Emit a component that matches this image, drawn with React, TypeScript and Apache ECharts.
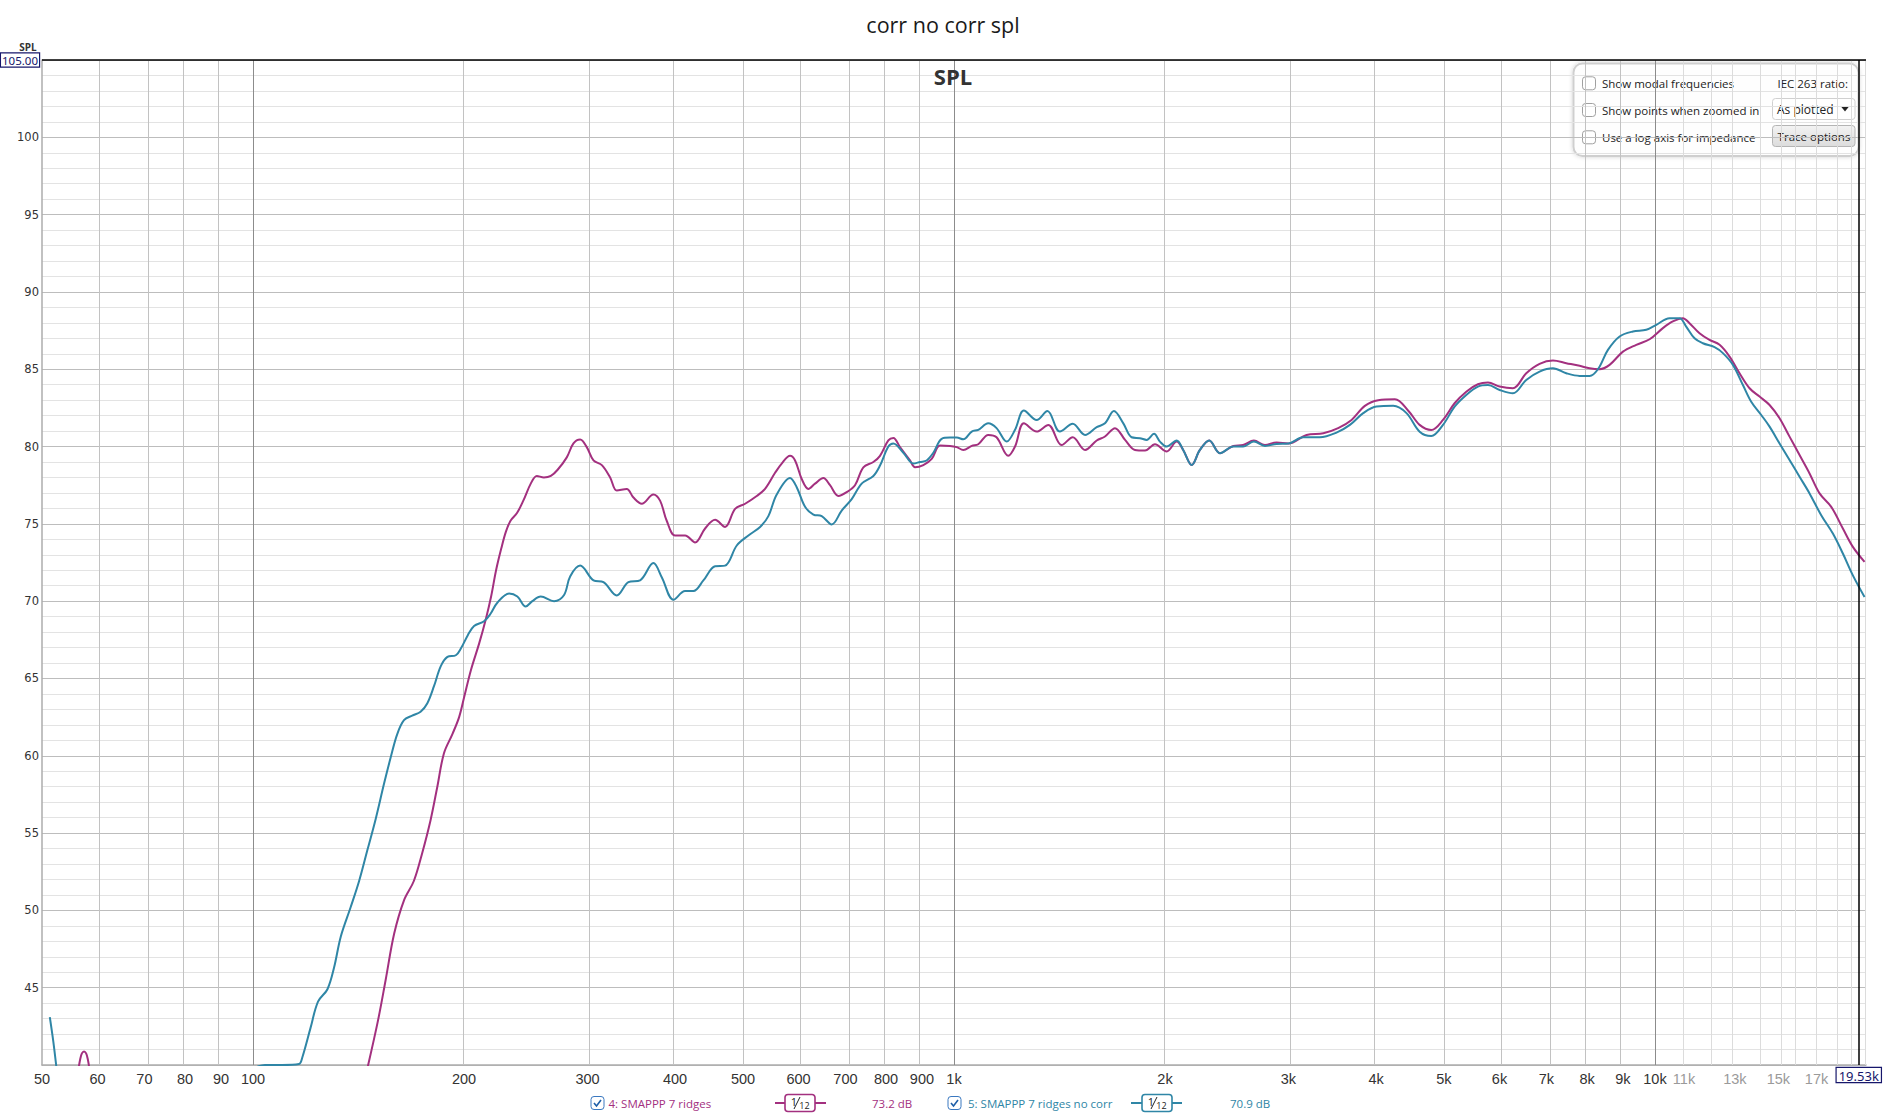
import React, { useEffect, useRef } from 'react';
import * as echarts from 'echarts';

// ---------- texts ----------
const CHART_TITLE = 'corr no corr spl';
const GRAPH_NAME = 'SPL';
const Y_AXIS_NAME = 'SPL';
const TRACE4_NAME = '4: SMAPPP 7 ridges';
const TRACE5_NAME = '5: SMAPPP 7 ridges no corr';
const TRACE4_LEVEL = '73.2 dB';
const TRACE5_LEVEL = '70.9 dB';
const SMOOTHING_NUM = '1';
const SMOOTHING_DEN = '12';
const PANEL_CHECKS = ['Show modal frequencies', 'Show points when zoomed in', 'Use a log axis for impedance'];
const PANEL_IEC = 'IEC 263 ratio:';
const PANEL_DROPDOWN = 'As plotted';
const PANEL_BUTTON = 'Trace options';

// ---------- axes ----------
const X_MIN_HZ = 50;
const X_MAX_HZ = 20000;
const Y_MIN_DB = 40;
const Y_MAX_DB = 105;
const Y_INTERVAL = 5;
const CURSOR_HZ = 19530;
const CURSOR_DB = 105;
const CURSOR_X_LABEL = '19.53k';
const CURSOR_Y_LABEL = '105.00';

const xLabelFreqs = [50, 60, 70, 80, 90, 100, 200, 300, 400, 500, 600, 700, 800, 900, 1000, 2000, 3000, 4000, 5000, 6000, 7000, 8000, 9000, 10000, 11000, 13000, 15000, 17000, CURSOR_HZ];
const xLabelTexts = ['50', '60', '70', '80', '90', '100', '200', '300', '400', '500', '600', '700', '800', '900', '1k', '2k', '3k', '4k', '5k', '6k', '7k', '8k', '9k', '10k', '11k', '13k', '15k', '17k', CURSOR_X_LABEL];
const xLabelMuted = ['11k', '13k', '15k', '17k'];

const gridDecadeFreqs = [100, 1000, 10000];
const gridFreqs = [60, 70, 80, 90, 200, 300, 400, 500, 600, 700, 800, 900, 2000, 3000, 4000, 5000, 6000, 7000, 8000, 9000];
const gridFineFreqs = [11000, 12000, 13000, 14000, 15000, 16000, 17000, 18000, 19000, 20000];

// ---------- data: trace 4 (magenta) ----------
const t4BlipFreq = [56.3, 56.7, 57.0, 57.4, 57.8, 58.1, 58.5];
const t4BlipDb = [39.6, 40.4, 40.75, 40.88, 40.75, 40.4, 39.6];
const t4Freq = [145.8, 150.8, 154.6, 159.0, 164.2, 169.6, 174.3, 179.1, 183.2, 187.2,
  192.5, 196.8, 200.1, 204.6, 210.3, 215.0, 218.6, 222.2, 226, 229.5,
  233, 238, 243, 249, 254, 260, 266, 272, 280.3, 286.5,
  292.9, 299.3, 306, 314.5, 323.2, 330.3, 341.3, 348.9, 358.6, 372.5,
  380.8, 389.2, 400, 413.4, 427.2, 441.5, 456.2, 471.4, 487.2, 503.5,
  523.1, 537.6, 555.6, 567.8, 583.6, 593.3, 606.4, 619.8, 633.5, 651.1,
  665.5, 684, 702.9, 722.4, 742.5, 767.3, 784.2, 806, 819.4, 837.5,
  865.5, 879.8, 904.2, 929.3, 955, 987, 1009, 1031, 1060, 1083,
  1119, 1150, 1195, 1222, 1258, 1312, 1363, 1424, 1477, 1538,
  1598, 1642, 1697, 1754, 1812, 1873, 1935, 2011, 2078, 2123,
  2183, 2243, 2313, 2395, 2503, 2585, 2678, 2777, 2885, 3000,
  3184, 3364, 3532, 3691, 3856, 4029, 4256, 4450, 4616, 4796,
  4984, 5178, 5380, 5590, 5778, 6003, 6271, 6552, 6845, 7152,
  7472, 7807, 8068, 8336, 8615, 9001, 9404, 9825, 10263, 10604,
  10958, 11201, 11575, 11961, 12364, 12776, 13202, 13643, 14099, 14570,
  15056, 15558, 16078, 16615, 17170, 17841, 18537, 19156, 19904];
const t4Db = [39.9, 42.9, 45.5, 48.5, 50.65, 51.9, 53.7, 55.8, 58.0, 60.15,
  61.4, 62.5, 63.8, 65.55, 67.3, 68.9, 70.3, 72.0, 73.4, 74.5,
  75.2, 75.7, 76.5, 77.6, 78.1, 78.0, 78.1, 78.5, 79.3, 80.2,
  80.45, 79.96, 79.1, 78.8, 78.0, 77.15, 77.26, 76.7, 76.3, 76.9,
  76.5, 75.2, 74.25, 74.25, 73.8, 74.7, 75.26, 74.8, 75.97, 76.3,
  76.8, 77.26, 78.3, 78.9, 79.4, 79.1, 77.9, 77.26, 77.6, 77.97,
  77.5, 76.8, 77.05, 77.5, 78.66, 79.0, 79.4, 80.4, 80.56, 79.96,
  79.1, 78.66, 78.8, 79.2, 80.06, 80.04, 79.96, 79.78, 80.04, 80.15,
  80.75, 80.6, 79.4, 80.0, 81.5, 80.97, 81.4, 80.1, 80.6, 79.78,
  80.39, 80.65, 81.19, 80.43, 79.78, 79.74, 80.15, 79.68, 80.32, 79.78,
  78.81, 79.78, 80.39, 79.57, 80.04, 80.1, 80.39, 80.1, 80.26, 80.2,
  80.75, 80.86, 81.19, 81.72, 82.63, 83.0, 83.06, 82.3, 81.4, 81.07,
  81.72, 82.8, 83.55, 84.03, 84.14, 83.88, 83.77, 84.74, 85.35, 85.56,
  85.39, 85.22, 85.06, 85.0, 85.28, 86.14, 86.58, 86.94, 87.66, 88.09,
  88.3, 87.98, 87.33, 86.9, 86.58, 85.82, 84.74, 83.77, 83.23, 82.69,
  81.83, 80.64, 79.45, 78.26, 76.97, 76.1, 74.7, 73.51, 72.54];

// ---------- data: trace 5 (teal) ----------
const t5BlipFreq = [51.3, 51.9, 52.5];
const t5BlipDb = [43.1, 41.5, 39.6];
const t5Freq = [101.5, 104, 110, 116.3, 117.6, 120.8, 123.8, 127.7, 130.5, 133.4,
  137.8, 141.7, 145.6, 149.6, 153.8, 157.2, 160.6, 164.2, 168.7, 173.4,
  177.3, 181.2, 185.3, 189.4, 194.7, 198, 202.5, 206.7, 213.6, 218.3,
  223.1, 231.9, 238.3, 244.9, 250.3, 257.3, 268.8, 277.8, 283.4, 292.9,
  306, 316.2, 330.3, 343.2, 356.6, 372.5, 382.9, 397.9, 413.4, 424.9,
  439, 456.2, 471.4, 489.9, 509, 528.9, 543.5, 558.6, 583.6, 596.5,
  613.1, 630.1, 647.6, 669.2, 691.5, 714.6, 738.4, 767.3, 784.2, 806,
  819.4, 846.7, 875, 894.4, 914, 934.4, 960.3, 987, 1009, 1031,
  1060, 1083, 1119, 1150, 1189, 1222, 1258, 1312, 1359, 1416,
  1477, 1538, 1598, 1642, 1691, 1744, 1792, 1842, 1883, 1929,
  1967, 2011, 2078, 2123, 2183, 2243, 2313, 2395, 2503, 2585,
  2678, 2777, 2885, 3000, 3149, 3326, 3513, 3671, 3835, 4006,
  4232, 4421, 4616, 4796, 4984, 5178, 5380, 5590, 5778, 6003,
  6271, 6552, 6845, 7152, 7472, 7807, 8068, 8291, 8568, 8903,
  9302, 9718, 10043, 10490, 10840, 11080, 11387, 11703, 12161, 12500,
  12917, 13349, 13718, 14177, 14570, 15056, 15558, 16078, 16615, 17264,
  17939, 18537, 19156, 19904];
const t5Db = [39.9, 40.0, 40.0, 40.06, 40.5, 42.4, 44.1, 44.9, 46.3, 48.3,
  50.2, 51.9, 53.9, 55.9, 58.2, 59.9, 61.4, 62.3, 62.6, 62.85,
  63.4, 64.5, 65.8, 66.4, 66.5, 66.95, 67.8, 68.4, 68.7, 69.2,
  69.9, 70.5, 70.3, 69.65, 70.0, 70.3, 70.0, 70.4, 71.6, 72.3,
  71.34, 71.23, 70.37, 71.23, 71.34, 72.46, 71.55, 70.09, 70.65, 70.65,
  71.34, 72.26, 72.3, 73.6, 74.25, 74.8, 75.5, 76.9, 77.97, 77.37,
  76.1, 75.6, 75.5, 74.96, 75.86, 76.6, 77.6, 78.1, 78.77, 80.0,
  80.2, 79.6, 78.9, 79.0, 79.1, 79.6, 80.5, 80.58, 80.58, 80.47,
  80.97, 81.08, 81.5, 81.19, 80.32, 81.08, 82.33, 81.72, 82.3, 80.97,
  81.47, 80.75, 81.25, 81.5, 82.3, 81.5, 80.6, 80.54, 80.43, 80.82,
  80.32, 80.0, 80.39, 79.78, 78.81, 79.78, 80.39, 79.57, 80.0, 80.0,
  80.32, 80.04, 80.17, 80.2, 80.6, 80.6, 80.9, 81.4, 82.16, 82.59,
  82.63, 82.16, 80.96, 80.68, 81.4, 82.58, 83.34, 83.88, 83.98, 83.66,
  83.44, 84.31, 84.85, 85.06, 84.74, 84.57, 84.57, 85.0, 86.25, 87.12,
  87.44, 87.55, 87.87, 88.3, 88.3, 87.76, 87.0, 86.68, 86.43, 86.04,
  85.28, 83.98, 82.9, 82.04, 81.29, 80.2, 79.13, 78.05, 76.97, 75.56,
  74.37, 73.08, 71.67, 70.27];

// ---------- styles ----------
const C4 = '#a3307f';
const C5 = '#2f86a6';
const CURSOR_COLOR = '#17176b';
const W = 1886;
const H = 1115;
const GRID = { left: 42, right: 20, top: 60, bottom: 50 };
const UI_FONT = "'Open Sans', 'Noto Sans', sans-serif";
const NARROW_FONT = "'Liberation Sans Narrow', 'Liberation Sans', sans-serif";

const lg = (f: number) => Math.log10(f);
const pairs = (fs: number[], ds: number[]) => fs.map((f, i) => [lg(f), ds[i]]);

function checkbox(x: number, y: number, checked: boolean, stroke: string) {
  const children: any[] = [
    { type: 'rect', shape: { x, y, width: 13, height: 13, r: 3 }, style: { fill: '#fff', stroke, lineWidth: 1 } },
  ];
  if (checked) {
    children.push({
      type: 'polyline',
      shape: { points: [[x + 3, y + 6.5], [x + 5.5, y + 9.5], [x + 10, y + 3.5]] },
      style: { stroke: '#1f5fa8', lineWidth: 1.6, fill: null },
    });
  }
  return { type: 'group', children };
}

function legendItem(x0: number, y: number, color: string, name: string, level: string, geo: any) {
  return {
    type: 'group',
    children: [
      checkbox(x0, y - 6.5, true, '#3a78c0'),
      { type: 'text', x: geo.text, y, style: { text: name, fill: color, font: `11.5px ${UI_FONT}`, textVerticalAlign: 'middle' } },
      { type: 'line', shape: { x1: geo.lineFrom, y1: y, x2: geo.lineTo, y2: y }, style: { stroke: color, lineWidth: 2 } },
      { type: 'rect', shape: { x: geo.boxX, y: y - 8.5, width: 30, height: 17, r: 3 }, style: { fill: '#fff', stroke: color, lineWidth: 1.6 } },
      { type: 'text', x: geo.boxX + 9, y: y - 1.5, style: { text: SMOOTHING_NUM, fill: '#222', font: `11px ${UI_FONT}`, textAlign: 'center', textVerticalAlign: 'middle' } },
      { type: 'line', shape: { x1: geo.boxX + 9, y1: y + 6, x2: geo.boxX + 15, y2: y - 6 }, style: { stroke: '#222', lineWidth: 1 } },
      { type: 'text', x: geo.boxX + 19.5, y: y + 2.5, style: { text: SMOOTHING_DEN, fill: '#222', font: `9px ${UI_FONT}`, textAlign: 'center', textVerticalAlign: 'middle' } },
      { type: 'text', x: geo.level, y, style: { text: level, fill: color, font: `11.5px ${UI_FONT}`, textVerticalAlign: 'middle' } },
    ],
  };
}

function buildOption() {
  const gridLines = [
    ...gridFineFreqs.map((f) => ({ xAxis: lg(f), lineStyle: { color: '#dcdcdc', width: 1, type: 'solid' } })),
    ...gridFreqs.map((f) => ({ xAxis: lg(f), lineStyle: { color: '#c2c2c2', width: 1, type: 'solid' } })),
    ...gridDecadeFreqs.map((f) => ({ xAxis: lg(f), lineStyle: { color: '#8c8c8c', width: 1, type: 'solid' } })),
  ];
  const panelRows = [83.3, 110, 137.3];

  const lineBase = {
    type: 'line',
    symbol: 'none',
    showSymbol: false,
    smooth: 0.35,
    clip: true,
    silent: true,
    animation: false,
    emphasis: { disabled: true },
  };

  return {
    animation: false,
    backgroundColor: '#ffffff',
    title: {
      text: CHART_TITLE,
      left: 'center',
      top: 8,
      textStyle: { fontSize: 21.5, fontWeight: 'normal', fontFamily: UI_FONT, color: '#1a1a1a' },
    },
    grid: { ...GRID, containLabel: false, outerBoundsMode: 'none' },
    xAxis: {
      type: 'value',
      min: lg(X_MIN_HZ),
      max: lg(X_MAX_HZ),
      axisLine: { show: true, lineStyle: { color: '#adadad', width: 1.5 } },
      axisTick: { show: false },
      splitLine: { show: false },
      axisLabel: {
        show: true,
        margin: 3,
        hideOverlap: false,
        customValues: xLabelFreqs.map(lg),
        formatter: (v: number) => {
          const i = xLabelFreqs.findIndex((f) => Math.abs(lg(f) - v) < 1e-6);
          if (i < 0) return '';
          const t = xLabelTexts[i];
          if (xLabelFreqs[i] === CURSOR_HZ) return `{box|${t}}`;
          return xLabelMuted.includes(t) ? `{m|${t}}` : `{n|${t}}`;
        },
        rich: {
          n: { color: '#333', fontSize: 14.5, fontFamily: NARROW_FONT, padding: [3, 0, 0, 0] },
          m: { color: '#9a9a9a', fontSize: 14.5, fontFamily: NARROW_FONT, padding: [3, 0, 0, 0] },
          box: {
            color: CURSOR_COLOR, fontSize: 13, fontFamily: "'Noto Sans', sans-serif",
            borderColor: CURSOR_COLOR, borderWidth: 1.2, padding: [1, 2, 0, 2], backgroundColor: '#fff',
          },
        },
      },
    },
    yAxis: {
      type: 'value',
      min: Y_MIN_DB,
      max: Y_MAX_DB,
      interval: Y_INTERVAL,
      axisLine: { show: true, lineStyle: { color: '#adadad', width: 1.5 } },
      axisTick: { show: false },
      minorTick: { show: false, splitNumber: 5 },
      splitLine: { show: true, lineStyle: { color: '#bdbdbd', width: 1 } },
      minorSplitLine: { show: true, lineStyle: { color: '#e3e3e3', width: 1 } },
      axisLabel: {
        margin: 3,
        color: '#333',
        fontSize: 11.5,
        fontFamily: "'DejaVu Sans', sans-serif",
        formatter: (v: number) => {
          if (v === Y_MIN_DB) return '';
          if (v === CURSOR_DB) return `{box|${CURSOR_Y_LABEL}}`;
          return String(v);
        },
        rich: {
          box: {
            color: CURSOR_COLOR, fontSize: 11.5, fontFamily: "'Noto Sans', sans-serif",
            borderColor: CURSOR_COLOR, borderWidth: 1.2, padding: [1, 1, 0, 1], backgroundColor: '#fff',
          },
        },
      },
    },
    series: [
      {
        ...lineBase,
        name: TRACE4_NAME,
        data: pairs(t4Freq, t4Db),
        lineStyle: { color: C4, width: 2 },
        z: 3,
        markLine: {
          silent: true,
          z: 1,
          symbol: ['none', 'none'],
          label: { show: false },
          animation: false,
          data: gridLines,
        },
      },
      { ...lineBase, name: TRACE4_NAME + ' (low)', data: pairs(t4BlipFreq, t4BlipDb), lineStyle: { color: C4, width: 2 }, z: 3 },
      {
        ...lineBase,
        name: TRACE5_NAME,
        data: pairs(t5Freq, t5Db),
        lineStyle: { color: C5, width: 2 },
        z: 3,
        markLine: {
          silent: true,
          z: 6,
          symbol: ['none', 'none'],
          label: { show: false },
          animation: false,
          data: [
            { xAxis: lg(CURSOR_HZ), lineStyle: { color: '#000', width: 1.5, type: 'solid' } },
            { yAxis: CURSOR_DB, lineStyle: { color: '#000', width: 1.5, type: 'solid' } },
          ],
        },
      },
      { ...lineBase, name: TRACE5_NAME + ' (low)', data: pairs(t5BlipFreq, t5BlipDb), lineStyle: { color: C5, width: 2 }, z: 3 },
    ],
    graphic: [
      { type: 'text', x: 953, y: 76, z: 10, style: { text: GRAPH_NAME, fill: '#333', font: `bold 22px ${UI_FONT}`, textAlign: 'center', textVerticalAlign: 'middle' } },
      { type: 'text', x: 28, y: 47, z: 1, style: { text: Y_AXIS_NAME, fill: '#333', font: `bold 10px ${UI_FONT}`, textAlign: 'center', textVerticalAlign: 'middle' } },
      // options panel
      {
        type: 'group',
        z: 20,
        children: [
          {
            type: 'rect', shape: { x: 1573.5, y: 63.5, width: 285, height: 92.5, r: 9 },
            style: { fill: 'rgba(255,255,255,0.94)', stroke: '#cfcfcf', lineWidth: 2, shadowBlur: 4, shadowColor: 'rgba(0,0,0,0.18)' },
          },
          ...PANEL_CHECKS.map((t, i) => checkbox(1582.5, panelRows[i] - 6.5, false, '#a0a0a0')),
          ...PANEL_CHECKS.map((t, i) => ({
            type: 'text', x: 1602, y: panelRows[i],
            style: { text: t, fill: '#222', font: `11.5px ${UI_FONT}`, textVerticalAlign: 'middle' },
          })),
          { type: 'text', x: 1848, y: panelRows[0], style: { text: PANEL_IEC, fill: '#222', font: `11.5px ${UI_FONT}`, textAlign: 'right', textVerticalAlign: 'middle' } },
          { type: 'rect', shape: { x: 1772.5, y: 98.5, width: 82.5, height: 21, r: 3 }, style: { fill: '#fff', stroke: '#d0d0d0', lineWidth: 1 } },
          { type: 'text', x: 1777, y: 109, style: { text: PANEL_DROPDOWN, fill: '#222', font: `12px ${UI_FONT}`, textVerticalAlign: 'middle' } },
          { type: 'polygon', shape: { points: [[1841, 106.5], [1849, 106.5], [1845, 111.5]] }, style: { fill: '#222' } },
          {
            type: 'rect', shape: { x: 1772.5, y: 125.5, width: 82.5, height: 21, r: 3 },
            style: {
              fill: new echarts.graphic.LinearGradient(0, 0, 0, 1, [{ offset: 0, color: '#f3f3f3' }, { offset: 1, color: '#dcdcdc' }]),
              stroke: '#b4b4b4', lineWidth: 1,
            },
          },
          { type: 'text', x: 1814, y: 136, style: { text: PANEL_BUTTON, fill: '#222', font: `11.5px ${UI_FONT}`, textAlign: 'center', textVerticalAlign: 'middle' } },
        ],
      },
      // legend
      legendItem(591, 1103, C4, TRACE4_NAME, TRACE4_LEVEL, { text: 608.5, lineFrom: 775, lineTo: 826, boxX: 785, level: 872 }),
      legendItem(948, 1103, C5, TRACE5_NAME, TRACE5_LEVEL, { text: 968, lineFrom: 1131, lineTo: 1182, boxX: 1142, level: 1230 }),
    ],
  };
}

export default function App() {
  const ref = useRef<HTMLDivElement>(null);
  useEffect(() => {
    if (!ref.current) return;
    const chart = echarts.init(ref.current, null, { renderer: 'svg' });
    chart.setOption(buildOption() as any);
    return () => chart.dispose();
  }, []);
  return (
    <div
      ref={ref}
      style={{ position: 'absolute', left: 0, top: 0, width: W, height: H, background: '#fff' }}
    />
  );
}
